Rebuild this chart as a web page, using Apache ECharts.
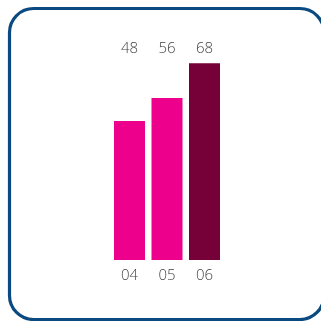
<!DOCTYPE html>
<html>
<head>
<meta charset="utf-8">
<style>
  html, body { margin: 0; padding: 0; background: #ffffff; }
  #chart { width: 321px; height: 321px; }
</style>
<script src="https://cdn.jsdelivr.net/npm/echarts@6/dist/echarts.min.js"></script>
</head>
<body>
<div id="chart"></div>
<script>
// Yearly values, one bar per year
var categories = ['04', '05', '06'];
var values = [48, 56, 68];
var barColors = ['#ec008c', '#ec008c', '#760038'];

var chart = echarts.init(document.getElementById('chart'), null, { renderer: 'canvas' });

var labelStyle = {
  color: '#444444',
  fontSize: 15,
  fontWeight: 300,
  fontFamily: 'Open Sans, sans-serif'
};

chart.setOption({
  animation: false,
  backgroundColor: '#ffffff',
  graphic: [{
    type: 'rect',
    shape: { x: 9.5, y: 8.5, width: 314.5, height: 311, r: 24 },
    style: { fill: 'none', stroke: '#0b4a80', lineWidth: 3.2 },
    z: 10
  }],
  grid: { left: 110.75, width: 112.5, top: 57.35, height: 202.65, containLabel: false },
  xAxis: [{
    type: 'category',
    data: categories,
    position: 'bottom',
    axisLine: { show: false },
    axisTick: { show: false },
    axisLabel: Object.assign({ margin: 8 }, labelStyle)
  }, {
    type: 'category',
    data: values.map(String),
    position: 'top',
    axisLine: { show: false },
    axisTick: { show: false },
    axisLabel: Object.assign({ margin: 1 }, labelStyle)
  }],
  yAxis: {
    type: 'value',
    min: 0,
    max: 70,
    show: false
  },
  series: [{
    type: 'bar',
    xAxisIndex: 0,
    barWidth: 31,
    data: values.map(function (v, i) {
      return { value: v, itemStyle: { color: barColors[i] } };
    })
  }]
});
</script>
</body>
</html>
